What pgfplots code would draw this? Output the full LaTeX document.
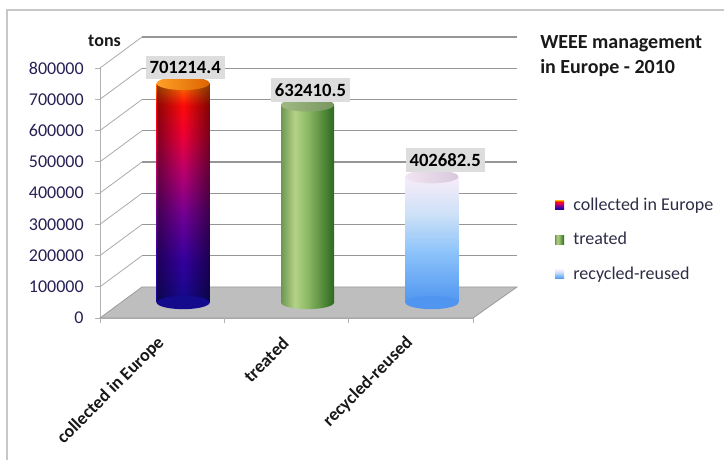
\documentclass[border=0pt]{standalone}
\usepackage{pgfplots}
\pgfplotsset{compat=1.18}
\usetikzlibrary{fadings}
\usepackage{fontspec}
\setmainfont{Carlito}

\definecolor{tickc}{RGB}{38,32,85}
\definecolor{legc}{RGB}{45,45,70}
\definecolor{gridc}{RGB}{150,150,150}
\definecolor{diagc}{RGB}{170,170,170}
\definecolor{floorc}{RGB}{190,190,190}
\definecolor{flooredge}{RGB}{155,155,155}
\definecolor{framec}{RGB}{200,200,200}
\definecolor{lblc}{RGB}{221,221,221}
% bar 1
\definecolor{c1a}{RGB}{20,10,140}
\definecolor{c1b}{RGB}{55,0,160}
\definecolor{c1c}{RGB}{115,0,150}
\definecolor{c1d}{RGB}{190,0,110}
\definecolor{c1e}{RGB}{240,0,55}
\definecolor{c1f}{RGB}{255,10,10}
\definecolor{c1g}{RGB}{255,120,0}
\definecolor{o1}{RGB}{255,160,40}
\definecolor{o2}{RGB}{220,100,0}
% bar 2
\definecolor{g1}{RGB}{110,150,80}
\definecolor{g2}{RGB}{180,210,135}
\definecolor{g3}{RGB}{140,185,100}
\definecolor{g4}{RGB}{45,105,30}
\definecolor{t2a}{RGB}{160,185,130}
\definecolor{t2b}{RGB}{120,150,95}
% bar 3
\definecolor{b1}{RGB}{80,150,240}
\definecolor{b2}{RGB}{140,195,250}
\definecolor{b3}{RGB}{205,225,247}
\definecolor{b4}{RGB}{248,236,250}
\definecolor{t3a}{RGB}{242,228,242}
\definecolor{t3b}{RGB}{215,200,220}

\pgfdeclareverticalshading{barA}{100bp}{color(0bp)=(c1a); color(25bp)=(c1a); color(35bp)=(c1b); color(45bp)=(c1c); color(55bp)=(c1d); color(63bp)=(c1e); color(70bp)=(c1f); color(75bp)=(c1g); color(100bp)=(c1g)}
\pgfdeclarehorizontalshading{barB}{100bp}{color(0bp)=(g1); color(25bp)=(g1); color(38bp)=(g2); color(50bp)=(g3); color(75bp)=(g4); color(100bp)=(g4)}
\pgfdeclareverticalshading{barC}{100bp}{color(0bp)=(b1); color(25bp)=(b1); color(45bp)=(b2); color(60bp)=(b3); color(75bp)=(b4); color(100bp)=(b4)}

\tikzfading[name=edgefade, left color=transparent!55, right color=transparent!50, middle color=transparent!100]

\pgfdeclareplotmark{topA}{\shade[draw=none, left color=o1, right color=o2] (0pt,0pt) ellipse (19.875pt and 5pt);}
\pgfdeclareplotmark{topB}{\shade[draw=none, left color=t2a, right color=t2b] (0pt,0pt) ellipse (19.875pt and 5pt);}
\pgfdeclareplotmark{topC}{\shade[draw=none, left color=t3a, right color=t3b] (0pt,0pt) ellipse (19.875pt and 5pt);}
\pgfdeclareplotmark{botA}{\fill[draw=none, c1a] (0pt,0pt) ellipse (19.875pt and 5pt);}
\pgfdeclareplotmark{botB}{\shade[draw=none, shading=barB] (0pt,0pt) ellipse (19.875pt and 5pt);}
\pgfdeclareplotmark{botC}{\fill[draw=none, b1] (0pt,0pt) ellipse (19.875pt and 5pt);}

\begin{document}
\begin{tikzpicture}
\path[use as bounding box] (0pt,0pt) rectangle (543pt,345pt);
\draw[framec, line width=1.5pt] (5.25pt,-2pt) -- (5.25pt,337.5pt) -- (545pt,337.5pt);

% front (floor / walls / ticks)
\begin{axis}[
  at={(75pt,106.5pt)}, anchor=south west,
  scale only axis, width=279.75pt, height=187.5pt,
  xmin=-0.5, xmax=2.5, ymin=0, ymax=800000,
  clip=false,
  axis x line*=bottom, axis y line*=left,
  axis line style={draw=gray!60, line width=0.6pt, -},
  ytick={0,100000,200000,300000,400000,500000,600000,700000,800000},
  scaled y ticks=false,
  /pgf/number format/fixed,
  /pgf/number format/1000 sep={},
  /pgf/number format/assume math mode=true,
  yticklabel style={font=\fontsize{13.5}{16}\selectfont, text=tickc, xshift=-5pt},
  ytick style={draw=gray!60, line width=0.6pt},
  tick align=outside, major tick length=3.75pt,
  xtick={0,1,2},
  xticklabels={collected in Europe, treated, recycled-reused},
  xtick style={draw=none},
  xticklabel style={xshift=1.8pt, yshift=-10.4pt, rotate=45, anchor=east, font=\bfseries\fontsize{13.5}{16}\selectfont, text=black!90},
]
\pgfplotsinvokeforeach{100000,200000,300000,400000,500000,600000,700000,800000}{
  \draw[diagc, line width=0.6pt] (axis cs:-0.5,#1) -- ++(31.5pt,23.25pt);
  \draw[gridc, line width=1.1pt] (axis cs:-0.5,#1) ++(31.5pt,23.25pt) -- ++(281.25pt,0pt);
}
\fill[floorc, draw=flooredge, line width=0.6pt] (axis cs:-0.5,0) -- ++(31.5pt,23.25pt) -- ++(281.25pt,0pt) -- (axis cs:2.5,0) -- cycle;
\pgfplotsinvokeforeach{-0.5,0.5,1.5,2.5}{
  \draw[gray!60, line width=0.6pt] (axis cs:#1,0) -- ++(0pt,-3.75pt);
}
\end{axis}

% bars at mid depth
\begin{axis}[
  at={(90.75pt,118.125pt)}, anchor=south west,
  scale only axis, width=279.75pt, height=187.5pt,
  xmin=-0.5, xmax=2.5, ymin=0, ymax=800000,
  hide axis, clip=false,
  legend style={at={(1.163,0.43)}, anchor=north west, draw=none, fill=none,
    font=\fontsize{13.5}{16}\selectfont, text=legc, row sep=11pt, column sep=5pt, inner sep=0pt},
  legend cell align=left,
]
\addplot[only marks, mark=botA, forget plot] coordinates {(0,0)};
\addplot[only marks, mark=botB, forget plot] coordinates {(1,0)};
\addplot[only marks, mark=botC, forget plot] coordinates {(2,0)};

\addplot[ybar, bar width=39.75pt, bar shift=0pt, draw=none, shade, shading=barA,
  legend image code/.code={\shade[draw=none, shading=barA] (0pt,-3.4pt) rectangle (6.75pt,3.4pt);}]
  coordinates {(0,701214.4)};
\addplot[ybar, bar width=39.75pt, bar shift=0pt, draw=none, fill=black, path fading=edgefade, forget plot]
  coordinates {(0,701214.4)};
\addplot[only marks, mark=topA,
  nodes near coords, point meta=explicit symbolic,
  every node near coord/.append style={fill=lblc, text=black, font=\bfseries\fontsize{14}{16}\selectfont, anchor=south, inner xsep=3pt, inner ysep=4pt, yshift=3.4pt, xshift=1.5pt}, forget plot]
  coordinates {(0,701214.4) [701214.4]};

\addplot[ybar, bar width=39.75pt, bar shift=0pt, draw=none, shade, shading=barB,
  legend image code/.code={\shade[draw=none, shading=barB] (0pt,-3.4pt) rectangle (6.75pt,3.4pt);}]
  coordinates {(1,632410.5)};
\addplot[only marks, mark=topB,
  nodes near coords, point meta=explicit symbolic,
  every node near coord/.append style={fill=lblc, text=black, font=\bfseries\fontsize{14}{16}\selectfont, anchor=south, inner xsep=3pt, inner ysep=4pt, yshift=2pt, xshift=2.2pt}, forget plot]
  coordinates {(1,632410.5) [632410.5]};

\addplot[ybar, bar width=39.75pt, bar shift=0pt, draw=none, shade, shading=barC,
  legend image code/.code={\shade[draw=none, shading=barC] (0pt,-3.4pt) rectangle (6.75pt,3.4pt);}]
  coordinates {(2,402682.5)};
\addplot[only marks, mark=topC,
  nodes near coords, point meta=explicit symbolic,
  every node near coord/.append style={fill=lblc, text=black, font=\bfseries\fontsize{14}{16}\selectfont, anchor=south, inner xsep=3pt, inner ysep=4pt, yshift=3.4pt, xshift=10pt}, forget plot]
  coordinates {(2,402682.5) [402682.5]};
\legend{collected in Europe, treated, recycled-reused}
\end{axis}

\node[anchor=base, font=\bfseries\fontsize{13.5}{16}\selectfont, text=black!90] at (78.4pt,309.75pt) {tons};
\node[anchor=north west, inner sep=0pt, align=left, font=\bfseries\fontsize{15}{18.75}\selectfont, text=black!90] at (405pt,318.75pt) {WEEE management\\in Europe - 2010};
\end{tikzpicture}
\end{document}
